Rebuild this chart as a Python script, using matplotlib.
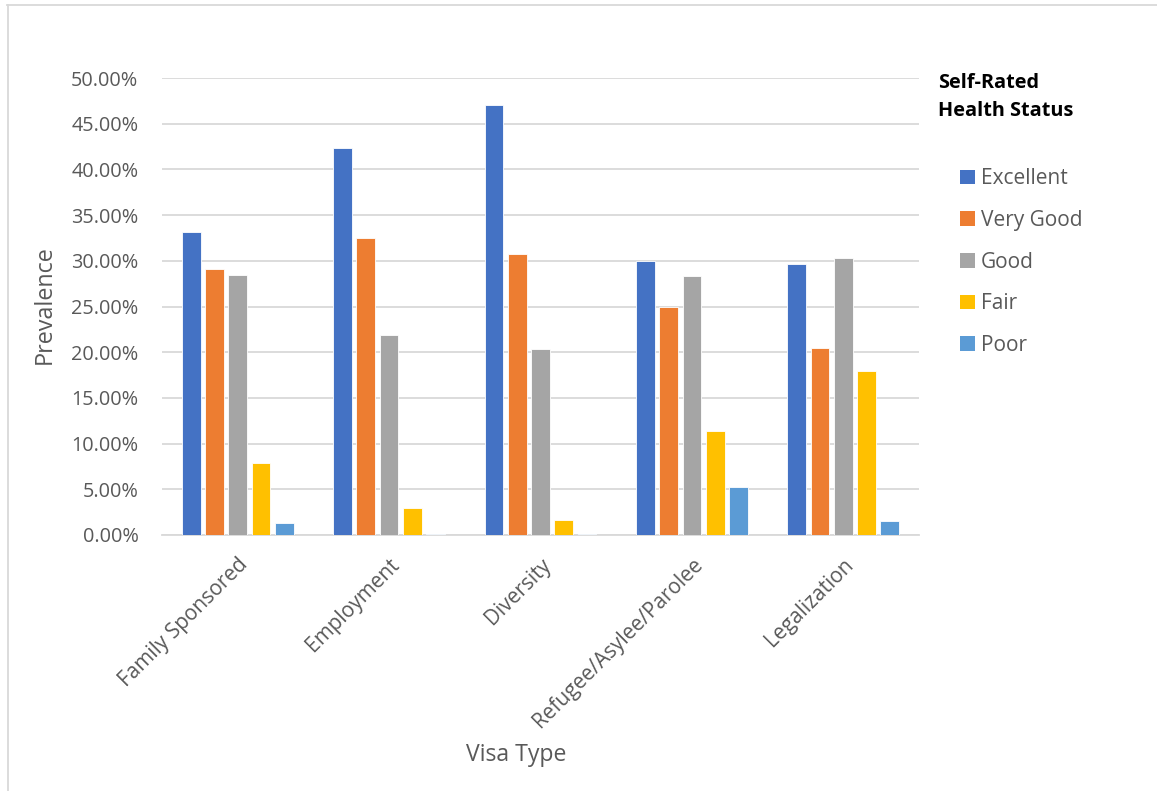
import matplotlib.pyplot as plt
import numpy as np
from matplotlib.lines import Line2D
from matplotlib.patches import Patch
from matplotlib.ticker import FuncFormatter

visa_types = ["Family Sponsored", "Employment", "Diversity", "Refugee/Asylee/Parolee", "Legalization"]
status = ["Excellent", "Very Good", "Good", "Fair", "Poor"]

excellent = [33.1, 42.3, 47.0, 30.0, 29.7]
very_good = [29.1, 32.5, 30.7, 24.9, 20.5]
good = [28.4, 21.9, 20.4, 28.3, 30.3]
fair = [7.9, 2.9, 1.6, 11.4, 17.9]
poor = [1.3, 0.1, 0.1, 5.3, 1.5]

colors = ["#4472C4", "#ED7D31", "#A5A5A5", "#FFC000", "#5B9BD5"]
text_color = "#595959"

plt.rcParams["font.family"] = ["Open Sans", "DejaVu Sans"]

W, H = 1157, 791
fig = plt.figure(figsize=(W / 100, H / 100), dpi=100)
ax = fig.add_axes([162 / W, 1 - 535 / H, (919 - 162) / W, (535 - 78) / H])

x = np.arange(len(visa_types))
pitch = 0.1535
bar_w = 0.124
series = [excellent, very_good, good, fair, poor]
for i, vals in enumerate(series):
    ax.bar(x + (i - 2) * pitch, np.array(vals) / 100, width=bar_w, color=colors[i],
           edgecolor="white", linewidth=0.6, zorder=3, label=status[i])

ax.set_xlim(-0.5, len(visa_types) - 0.5)
ax.set_ylim(0, 0.5)
ax.set_yticks(np.arange(0, 0.501, 0.05))
ax.yaxis.set_major_formatter(FuncFormatter(lambda v, p: f"{v * 100:.2f}%"))
ax.grid(axis="y", color="#d9d9d9", linewidth=1.3, zorder=0)
for s in ["top", "right", "left"]:
    ax.spines[s].set_visible(False)
ax.spines["bottom"].set_color("#d9d9d9")
ax.spines["bottom"].set_linewidth(1.3)
ax.tick_params(axis="both", length=0, colors=text_color)
ax.tick_params(axis="y", pad=17, labelsize=14.3)
ax.set_xticks(x)
ax.set_xticklabels(visa_types, rotation=45, ha="right", va="top", rotation_mode="anchor")
ax.tick_params(axis="x", pad=14, labelsize=15)

fig.text(45 / W, 1 - 305 / H, "Prevalence", rotation=90, ha="center", va="center",
         color=text_color, fontsize=16.8)
fig.text(516 / W, 1 - 755 / H, "Visa Type", ha="center", va="center",
         color=text_color, fontsize=16.6)

fig.text(938 / W, 1 - 97 / H, "Self-Rated\nHealth Status", ha="left", va="center",
         fontweight="bold", fontsize=14.3, color="black", linespacing=1.6)

handles = [Patch(facecolor=c, edgecolor="none") for c in colors]
fig.legend(handles, status, loc="upper left", bbox_to_anchor=(950 / W, 1 - 158 / H),
           frameon=False, fontsize=15, labelcolor=text_color, handlelength=0.7,
           handleheight=0.7, handletextpad=0.3, labelspacing=0.99, borderpad=0)

# chart area border
fig.add_artist(Line2D([7 / W, 1.0], [1 - 5 / H, 1 - 5 / H], color="#d9d9d9", linewidth=1.3))
fig.add_artist(Line2D([7.5 / W, 7.5 / W], [0, 1 - 5 / H], color="#d9d9d9", linewidth=1.3))

fig.savefig("out.png", dpi=100)
